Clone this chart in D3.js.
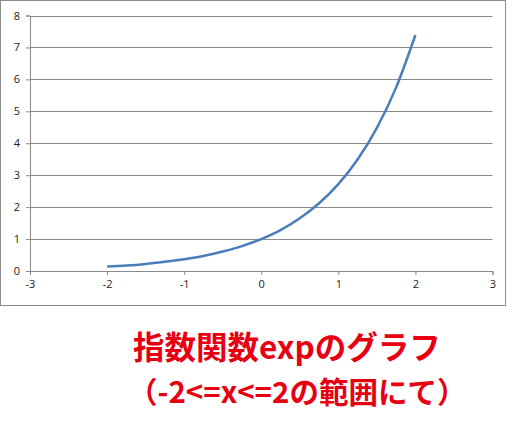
<!DOCTYPE html>
<html>
<head>
<meta charset="utf-8">
<script src="https://cdn.jsdelivr.net/npm/d3@7"></script>
<style>
  body { margin: 0; background: #fff; }
  svg { display: block; }
</style>
</head>
<body>
<svg id="main" width="512" height="429"></svg>
<script>
// values
const xs = [-2, -1.75, -1.5, -1.25, -1, -0.75, -0.5, -0.25, 0, 0.25, 0.5, 0.75, 1, 1.25, 1.5, 1.75, 2];
const ys = [0.14, 0.17, 0.22, 0.29, 0.37, 0.47, 0.61, 0.78, 1.0, 1.28, 1.65, 2.12, 2.72, 3.49, 4.48, 5.75, 7.39];
const xTicks = [-3, -2, -1, 0, 1, 2, 3];
const yTicks = [0, 1, 2, 3, 4, 5, 6, 7, 8];
const titleLines = ["指数関数expのグラフ", "（-2<=x<=2の範囲にて）"];

function draw() {
    const svg = d3.select("#main");

    // chart frame
    svg.append('rect')
        .attr('x', 0.5).attr('y', 0.5)
        .attr('width', 505).attr('height', 305)
        .attr('fill', 'white')
        .attr('stroke', '#8c8c8c');

    const x = d3.scaleLinear().domain([-3, 3]).range([30, 492.5]);
    const y = d3.scaleLinear().domain([0, 8]).range([271, 15.5]);

    // grid
    svg.append('g')
        .selectAll('line')
        .data(yTicks.filter(d => d > 0))
        .join('line')
        .attr('x1', x(-3)).attr('x2', x(3))
        .attr('y1', d => Math.round(y(d)) + 0.5)
        .attr('y2', d => Math.round(y(d)) + 0.5)
        .attr('stroke', '#8a8a8a');

    const yAxis = svg.append('g')
        .attr('transform', `translate(${x(-3)},0)`)
        .call(d3.axisLeft(y).tickValues(yTicks).tickSize(4).tickPadding(6).tickFormat(d => String(d)));
    const xAxis = svg.append('g')
        .attr('transform', `translate(0,${y(0)})`)
        .call(d3.axisBottom(x).tickValues(xTicks).tickSize(4).tickPadding(5).tickFormat(d => String(d)));

    [xAxis, yAxis].forEach(g => {
        g.select('.domain').attr('stroke', '#8a8a8a');
        g.selectAll('.tick line').attr('stroke', '#8a8a8a');
        g.selectAll('.tick text')
            .attr('fill', '#222')
            .style('font-family', '"Open Sans", sans-serif')
            .style('font-size', '11px');
    });

    // curve
    const line = d3.line()
        .x((d, i) => x(xs[i]))
        .y(d => y(d))
        .curve(d3.curveMonotoneX);
    svg.append('path')
        .datum(ys)
        .attr('d', line)
        .attr('fill', 'none')
        .attr('stroke', '#4a7ebb')
        .attr('stroke-width', 2.5);

    // title
    svg.append('g')
        .selectAll('text')
        .data(titleLines)
        .join('text')
        .attr('x', (d, i) => i === 0 ? 133 : 128)
        .attr('y', (d, i) => i === 0 ? 359 : 403)
        .attr('fill', '#e60012')
        .style('font-family', '"Noto Sans CJK JP", sans-serif')
        .style('font-weight', 'bold')
        .style('font-size', (d, i) => i === 0 ? '31.5px' : '29.5px')
        .text(d => d);
}

draw()
</script>
</body>
</html>
